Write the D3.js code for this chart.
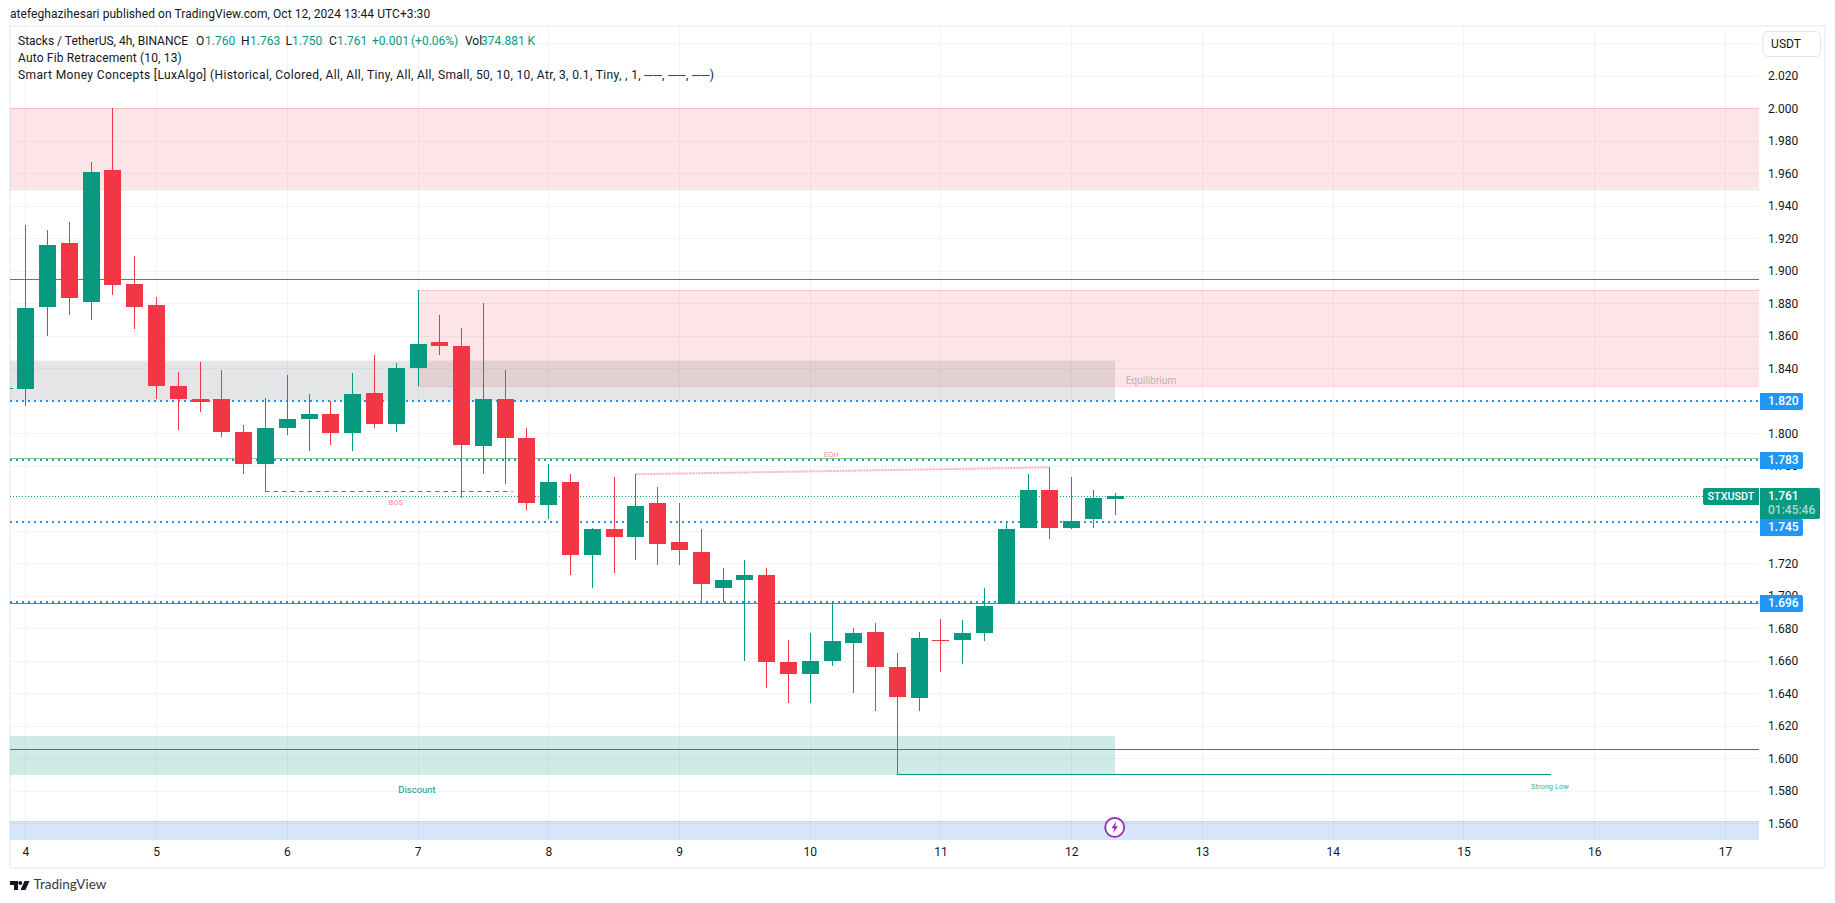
<!DOCTYPE html>
<html><head><meta charset="utf-8">
<script src="https://cdn.jsdelivr.net/npm/d3@7/dist/d3.min.js"></script>
<style>
html,body{margin:0;padding:0;background:#fff;overflow:hidden}
svg{display:block}
text{font-family:Roboto,"Liberation Sans",sans-serif;fill:#131722}
</style></head><body>
<svg id="c" width="1835" height="903"></svg>
<script>
const opens =[1.827,1.827,1.878,1.917,1.881,1.962,1.892,1.879,1.829,1.821,1.821,1.801,1.781,1.803,1.809,1.812,1.800,1.825,1.806,1.840,1.856,1.854,1.792,1.821,1.797,1.756,1.770,1.725,1.741,1.736,1.757,1.733,1.727,1.705,1.710,1.713,1.659,1.652,1.660,1.671,1.678,1.656,1.637,1.673,1.673,1.677,1.695,1.742,1.765,1.742,1.747,1.7595];
const highs =[1.828,1.928,1.925,1.930,1.967,2.000,1.909,1.884,1.838,1.844,1.839,1.805,1.822,1.836,1.824,1.820,1.837,1.848,1.843,1.888,1.873,1.865,1.880,1.839,1.803,1.781,1.775,1.742,1.773,1.775,1.767,1.757,1.741,1.717,1.722,1.717,1.673,1.677,1.696,1.680,1.683,1.665,1.678,1.686,1.685,1.705,1.746,1.775,1.779,1.773,1.765,1.763];
const lows  =[1.827,1.817,1.860,1.873,1.870,1.885,1.864,1.821,1.802,1.813,1.798,1.775,1.764,1.799,1.789,1.793,1.789,1.803,1.801,1.829,1.848,1.760,1.775,1.769,1.753,1.747,1.713,1.705,1.714,1.722,1.719,1.719,1.697,1.696,1.660,1.643,1.634,1.634,1.657,1.640,1.629,1.590,1.629,1.653,1.658,1.672,1.695,1.742,1.735,1.741,1.742,1.750];
const closes=[1.828,1.877,1.916,1.883,1.961,1.891,1.878,1.829,1.821,1.819,1.801,1.781,1.803,1.809,1.812,1.800,1.824,1.806,1.840,1.855,1.854,1.793,1.821,1.797,1.757,1.770,1.725,1.741,1.736,1.755,1.732,1.728,1.707,1.710,1.713,1.659,1.652,1.660,1.672,1.677,1.656,1.638,1.674,1.672,1.677,1.694,1.741,1.765,1.742,1.746,1.760,1.7612];
const firstIndex=-1;

const gridTicks=[2.04,2.02,2.00,1.98,1.96,1.94,1.92,1.90,1.88,1.86,1.84,1.82,1.80,1.78,1.76,1.74,1.72,1.70,1.68,1.66,1.64,1.62,1.60,1.58,1.56];
const priceLabels=[2.02,2.00,1.98,1.96,1.94,1.92,1.90,1.88,1.86,1.84,1.80,1.78,1.72,1.70,1.68,1.66,1.64,1.62,1.60,1.58,1.56];
const dayTicks=[4,5,6,7,8,9,10,11,12,13,14,15,16,17];
const blueLevels=[1.820,1.7838,1.7454,1.6961];
const blueLabels=["1.820","1.783","1.745","1.696"];
const badgeNudge=[0.5,1,5,1.5];
const lastPrice=1.761;

const W=1835,H=903,L=10,R=1759,T=27,B=840;
const y=d3.scaleLinear().domain([2,1.56]).range([108.3,823.3]);
const xi=d3.scaleLinear().domain([0,6]).range([25.3,156.04]);
const xDay=d=>xi((d-4)*6);
const svg=d3.select("#c");
const defs=svg.append("defs");
defs.append("clipPath").attr("id","plot").append("rect").attr("x",L).attr("y",T).attr("width",R-L).attr("height",B-T);

svg.append("rect").attr("x",10).attr("y",26).attr("width",1815).attr("height",842).attr("fill","none").attr("stroke","#f0f3fa").attr("stroke-width",2);

const plot=svg.append("g").attr("clip-path","url(#plot)");
const gridColor="#f2f3f7";
plot.selectAll(".h").data(gridTicks).join("line").attr("x1",L).attr("x2",R)
  .attr("y1",d=>Math.round(y(d))+.5).attr("y2",d=>Math.round(y(d))+.5).attr("stroke",gridColor);
plot.selectAll(".v").data(dayTicks).join("line").attr("y1",T).attr("y2",B)
  .attr("x1",d=>Math.round(xDay(d))+.5).attr("x2",d=>Math.round(xDay(d))+.5).attr("stroke",gridColor);

const redFill="rgba(242,54,69,.13)",redEdge="rgba(242,54,69,.2)";
const zoneEndIdx=(1115-25.3)/(130.74/6);
const zones=[
 [null,null,2.000,1.9506,redFill,redEdge],
 [18,null,1.888,1.829,redFill,redEdge],
 [null,zoneEndIdx,1.8447,1.820,"rgba(120,123,134,.2)",null],
 [null,zoneEndIdx,1.6137,1.5898,"rgba(8,153,129,.2)",null],
 [null,null,1.5612,1.54,"rgba(33,110,235,.18)","rgba(33,110,235,.18)"]
];
zones.forEach(z=>{
  const x0=z[0]===null?L:xi(z[0]), x1=z[1]===null?R:xi(z[1]);
  plot.append("rect").attr("x",x0).attr("width",x1-x0).attr("y",y(z[2])).attr("height",y(z[3])-y(z[2])).attr("fill",z[4]);
  if(z[5]) [z[2],z[3]].forEach(p=>plot.append("line").attr("x1",x0).attr("x2",x1).attr("y1",Math.round(y(p))+.5).attr("y2",Math.round(y(p))+.5).attr("stroke",z[5]));
});

const hline=(p,c,w,dash)=>{
  const yy=w===2?Math.round(y(p)):Math.floor(y(p))+.5;
  plot.append("line").attr("x1",L).attr("x2",R).attr("y1",yy).attr("y2",yy).attr("stroke",c).attr("stroke-width",w).attr("stroke-dasharray",dash||null);
};
hline(1.8948,"#f23645",1);
hline(1.7846,"#81c784",1);
hline(1.6954,"#4c9a5a",1);
hline(1.6057,"#089981",1);
blueLevels.forEach(p=>hline(p,"#2196f3",2,"2,4"));
plot.append("line").attr("x1",L).attr("x2",1703).attr("y1",Math.floor(y(lastPrice))+.5).attr("y2",Math.floor(y(lastPrice))+.5).attr("stroke","#089981").attr("stroke-width",1).attr("stroke-dasharray","1,2");

plot.append("line").attr("x1",xi(40)).attr("x2",1551).attr("y1",Math.floor(y(1.590))+.5).attr("y2",Math.floor(y(1.590))+.5).attr("stroke","#089981").attr("stroke-width",1);
plot.append("line").attr("x1",xi(11)).attr("x2",xi(22)+8).attr("y1",Math.floor(y(1.7643))+.5).attr("y2",Math.floor(y(1.7643))+.5).attr("stroke","#f23645").attr("stroke-width",1).attr("stroke-dasharray","4.5,4");
plot.append("line").attr("x1",xi(28)).attr("x2",xi(47)).attr("y1",y(1.7748)).attr("y2",y(1.779)).attr("stroke","#f23645").attr("stroke-opacity",.4).attr("stroke-width",2).attr("stroke-dasharray","2,1");

const up="#089981",down="#f23645";
const candles=opens.map((o,i)=>({i:i+firstIndex,o,h:highs[i],l:lows[i],c:closes[i]}));
const g=plot.append("g").selectAll("g").data(candles).join("g").attr("shape-rendering","crispEdges");
g.append("line").attr("x1",d=>Math.round(xi(d.i))+.5).attr("x2",d=>Math.round(xi(d.i))+.5)
 .attr("y1",d=>y(d.h)).attr("y2",d=>y(d.l)).attr("stroke",d=>d.c>=d.o?up:down);
g.append("rect").attr("x",d=>Math.round(xi(d.i))-8).attr("width",17)
 .attr("y",d=>y(Math.max(d.o,d.c))).attr("height",d=>Math.max(1,Math.abs(y(d.o)-y(d.c))))
 .attr("fill",d=>d.c>=d.o?up:down);

const lab=(t,x,yy,size,col,op)=>svg.append("text").text(t).attr("x",x).attr("y",yy).attr("text-anchor","middle").attr("dominant-baseline","middle").attr("font-size",size).style("fill",col).attr("opacity",op||1);
lab("Equilibrium",1151,381.5,10.2,"#787b86",.5);
lab("Discount",417,790,9.5,"#089981",1);
lab("Strong Low",1550,787,7.5,"#089981",.8);
lab("BOS",395.7,503.5,7.5,"#f23645",.6);
lab("EQH",831.4,455.5,7.5,"#f23645",.6);

const yAxis=d3.axisRight(y).tickValues(priceLabels).tickFormat(d3.format(".3f")).tickSize(0).tickPadding(0);
const ya=svg.append("g").attr("transform","translate(1768,0)").call(yAxis);
ya.select(".domain").remove();
ya.selectAll("text").attr("font-size",12).style("fill","#131722").style("font-family","Roboto");
const xAxisScale=d3.scaleLinear().domain([4,17]).range([xDay(4),xDay(17)]);
const xAxis=d3.axisBottom(xAxisScale).tickValues(dayTicks).tickFormat(d3.format("d")).tickSize(0).tickPadding(7);
const xa=svg.append("g").attr("transform",`translate(0,${B})`).call(xAxis);
xa.select(".domain").remove();
xa.selectAll("text").attr("font-size",12).style("fill","#131722").style("font-family","Roboto");

blueLevels.forEach((p,i)=>{
  const cy=Math.floor(y(p)+badgeNudge[i])+.5;
  svg.append("path").attr("d",`M1760 ${cy-8.5}h41a2 2 0 0 1 2 2v13a2 2 0 0 1-2 2h-41z`).attr("fill","#2196f3");
  svg.append("text").text(blueLabels[i]).attr("x",1768).attr("y",cy+.5).attr("dominant-baseline","middle").attr("font-size",12).attr("font-weight",500).style("fill","#fff");
});
svg.append("path").attr("d","M1760 488h58a2 2 0 0 1 2 2v27a2 2 0 0 1-2 2h-58z").attr("fill","#089981");
svg.append("text").text("1.761").attr("x",1768).attr("y",497).attr("dominant-baseline","middle").attr("font-size",12).attr("font-weight",500).style("fill","#fff");
svg.append("text").text("01:45:46").attr("x",1768).attr("y",511).attr("dominant-baseline","middle").attr("font-size",12).attr("font-weight",500).style("fill","#a8dcd2");
svg.append("path").attr("d","M1705 488h54v17h-54a2 2 0 0 1-2-2v-13a2 2 0 0 1 2-2z").attr("fill","#089981");
svg.append("text").text("STXUSDT").attr("x",1731).attr("y",497).attr("text-anchor","middle").attr("dominant-baseline","middle").attr("font-size",10.8).attr("font-weight",500).style("fill","#fff");

svg.append("rect").attr("x",1763).attr("y",31.5).attr("width",57.5).attr("height",25).attr("rx",5).attr("fill","#fff").attr("stroke","#e0e3eb");
svg.append("text").text("USDT").attr("x",1786).attr("y",44.5).attr("text-anchor","middle").attr("dominant-baseline","middle").attr("font-size",12).style("fill","#131722");

const t=(s,x,yy,c,size,ls)=>svg.append("text").text(s).attr("x",x).attr("y",yy).attr("dominant-baseline","middle").attr("font-size",size||12).attr("letter-spacing",ls||null).style("fill",c||"#131722");
t("atefeghazihesari published on TradingView.com, Oct 12, 2024 13:44 UTC+3:30",10,15,"#131722",12,.06);
const G="#089981";
t("Stacks / TetherUS, 4h, BINANCE",18,41.5);
t("O",196,41.5);t("1.760",205,41.5,G);
t("H",241,41.5);t("1.763",250,41.5,G);
t("L",285.5,41.5);t("1.750",292,41.5,G);
t("C",329,41.5);t("1.761",337,41.5,G);
t("+0.001",372,41.5,G);t("(+0.06%)",411,41.5,G);
t("Vol",465,41.5);t("374.881 K",481,41.5,G);
t("Auto Fib Retracement (10, 13)",18,59,null,12,.17);
t("Smart Money Concepts [LuxAlgo] (Historical, Colored, All, All, Tiny, All, All, Small, 50, 10, 10, Atr, 3, 0.1, Tiny, , 1, ──, ──, ──)",18,76,null,12,.37);

const ic=svg.append("g").attr("transform","translate(1114.7,827.3)");
ic.append("circle").attr("r",9.5).attr("fill","#fff").attr("stroke","#9c27b0").attr("stroke-width",1.8);
ic.append("path").attr("d","M1.6 -6 L-3.2 1 H-0.4 L-1.6 6 L3.2 -1 H0.4 Z").attr("fill","#9c27b0");

const lg=svg.append("g").attr("transform","translate(10,881)").attr("fill","#131722");
lg.append("path").attr("d","M0 0H8V9H4V4H0Z");
lg.append("circle").attr("cx",10.3).attr("cy",2).attr("r",2);
lg.append("path").attr("d","M14.5 0H19.5L15.5 9H10.5Z");
svg.append("text").text("TradingView").attr("x",33.5).attr("y",886).attr("dominant-baseline","middle").attr("font-size",13.5).style("fill","#363a45").style("font-family","Lato");
</script>
</body></html>
